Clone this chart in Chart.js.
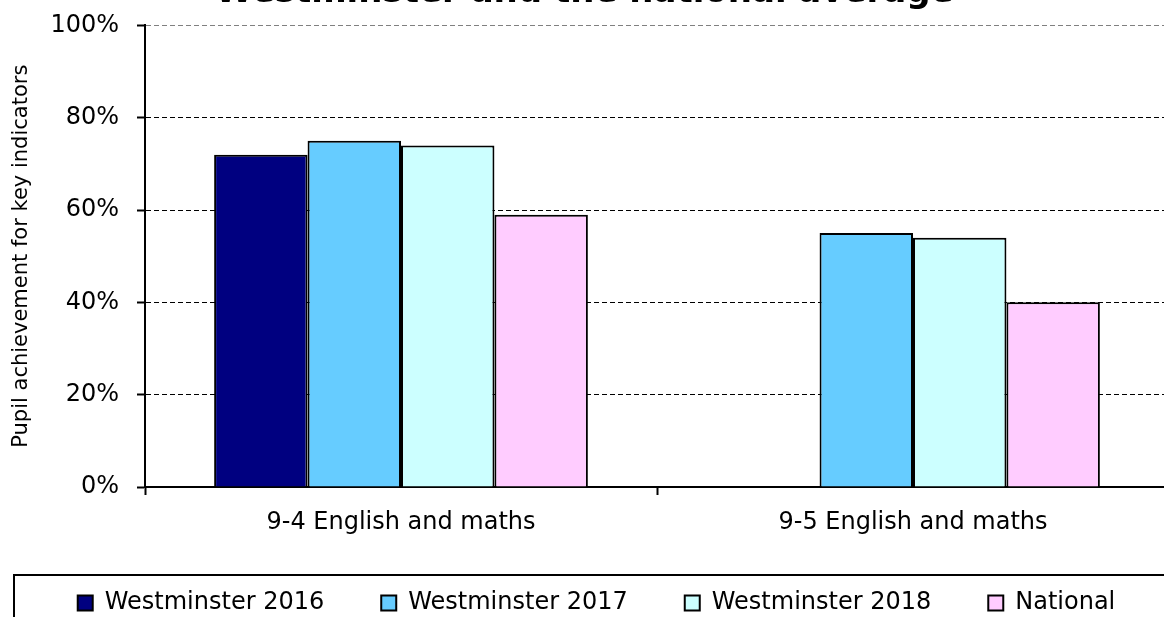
<!DOCTYPE html>
<html>
<head>
<meta charset="utf-8">
<title>Westminster and the national average</title>
<script src="https://cdn.jsdelivr.net/npm/chart.js@4.4.0/dist/chart.umd.min.js"></script>
<style>
  html, body { margin: 0; padding: 0; background: #fff; overflow: hidden; }
  #wrap { position: relative; width: 1164px; height: 617px; overflow: hidden; }
  #chart { position: absolute; left: 0; top: -30px; }
</style>
</head>
<body>
<div id="wrap"><canvas id="chart" width="1180" height="676"></canvas></div>
<script>
const categories = ['9-4 English and maths', '9-5 English and maths'];
const seriesNames = ['Westminster 2016', 'Westminster 2017', 'Westminster 2018', 'National'];
const westminster2016 = [72, null];
const westminster2017 = [75, 55];
const westminster2018 = [74, 54];
const national = [59, 40];
const yTicks = [0, 20, 40, 60, 80, 100];

const colours = ['#000080', '#66ccff', '#ccffff', '#ffccff'];
const values = [westminster2016, westminster2017, westminster2018, national];

Chart.defaults.font.family = '"DejaVu Sans", Verdana, sans-serif';
Chart.defaults.color = '#000';

// nudge the legend into place and draw the frame round it,
// cut off by the bottom and right edges like the original
const legendFrame = {
  id: 'legendFrame',
  afterLayout(chart) {
    chart.legend.left += 12;
    chart.legend.right += 12;
    chart.legend.top -= 13;
    chart.legend.bottom -= 13;
  },
  afterDraw(chart) {
    const ctx = chart.ctx;
    const top = chart.legend.top + 41;
    ctx.save();
    ctx.strokeStyle = '#000';
    ctx.lineWidth = 2;
    ctx.strokeRect(14, top, 1300, 200);
    ctx.restore();
  }
};

new Chart(document.getElementById('chart'), {
  type: 'bar',
  data: {
    labels: categories,
    datasets: values.map((v, i) => ({
      label: seriesNames[i],
      data: v,
      backgroundColor: colours[i],
      borderColor: '#000',
      borderWidth: 2,
      categoryPercentage: 0.73,
      barPercentage: 1
    }))
  },
  options: {
    responsive: false,
    maintainAspectRatio: false,
    animation: false,
    layout: {padding: {left: 0, right: 11, top: 0, bottom: 8}},
    plugins: {
      title: {
        display: true,
        text: 'Westminster and the national average',
        font: {size: 34, weight: 'bold'},
        padding: {top: 3, bottom: 11.6}
      },
      legend: {
        position: 'bottom',
        labels: {
          boxWidth: 15,
          boxHeight: 15,
          padding: 57,
          font: {size: 24}
        }
      },
      tooltip: {enabled: false}
    },
    scales: {
      x: {
        afterFit: (scale) => { scale.height = 60; },
        grid: {
          drawOnChartArea: false,
          color: '#000',
          tickLength: 8,
          tickWidth: 2
        },
        border: {color: '#000', width: 2},
        ticks: {font: {size: 24}, padding: 13}
      },
      y: {
        min: 0,
        max: 100,
        afterFit: (scale) => { scale.width = 145; },
        afterBuildTicks: (scale) => { scale.ticks = yTicks.map(v => ({value: v})); },
        grid: {
          color: (ctx) => (ctx.tick && ctx.tick.value === 100) ? '#808080' : '#000',
          lineWidth: 1,
          tickColor: '#000',
          tickLength: 8,
          tickWidth: 2
        },
        border: {color: '#000', width: 2, dash: [5, 3]},
        ticks: {
          font: {size: 24},
          padding: 18,
          callback: (v) => v + '%'
        },
        title: {
          display: true,
          text: 'Pupil achievement for key indicators',
          font: {size: 21},
          padding: {top: 9, bottom: 0}
        }
      }
    }
  },
  plugins: [legendFrame]
});
</script>
</body>
</html>
